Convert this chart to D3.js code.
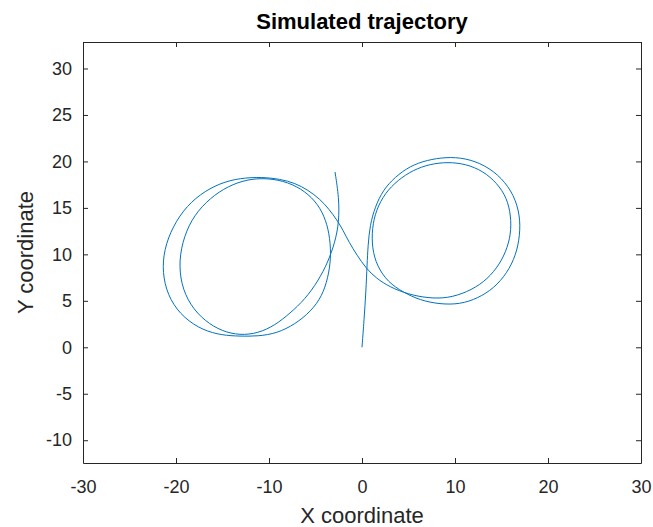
<!DOCTYPE html>
<html>
<head>
<meta charset="utf-8">
<script src="https://cdn.jsdelivr.net/npm/d3@7"></script>
<style>
  body { margin: 0; background: #fff; }
  text { font-family: "Liberation Sans", Arial, sans-serif; fill: #262626; }
</style>
</head>
<body>
<div id="chart"></div>
<script>
// trajectory, in order from the start point (0,0)
const xs = [0, 0.22, 0.43, 0.54, 0.65, 0.86, 1.40, 2.26, 3.55, 5.16, 6.99, 9.03, 11.08, 13.23, 15.05, 16.34, 16.99, 16.99, 16.56, 15.59, 14.19, 12.47, 10.54, 8.39, 6.24, 4.41,
  2.80, 1.61, 1.08, 1.08, 1.51, 2.47, 3.87, 5.48, 7.31, 9.25, 11.18, 13.01, 14.52, 15.59, 16.02, 16.02, 15.48, 14.52, 13.12, 11.29, 9.25, 7.10, 4.95,
  3.01, 1.51, 0.43, -0.54, -1.40, -2.04, -2.69, -3.55, -4.52, -5.81, -7.20, -8.82, -10.75,
  -13.12, -15.27, -17.42, -19.25, -20.65, -21.40, -21.40, -20.65, -19.14, -17.10, -15.05, -13.12, -11.18, -9.14, -7.20, -5.48, -4.30, -3.66, -3.33, -3.44, -3.87, -4.73, -6.13, -7.96, -10.11,
  -12.26, -14.41, -16.34, -18.06, -19.14, -19.68, -19.46, -18.49, -16.88, -15.05, -13.12, -11.18, -9.35, -7.74, -6.13, -4.73, -3.66, -2.90, -2.47, -2.47, -2.90];
const ys = [0, 2.91, 6.14, 8.84, 10.99, 13.15, 15.09, 16.92, 18.32, 19.50, 20.15, 20.47, 20.37, 19.61, 18.21, 16.38, 14.22, 12.07, 9.91, 7.97, 6.36, 5.28, 4.63, 4.63, 5.06, 5.93,
  7.00, 8.73, 10.67, 12.82, 14.76, 16.59, 18.00, 19.07, 19.72, 19.94, 19.72, 18.97, 17.67, 16.06, 14.12, 12.18, 10.24, 8.51, 7.00, 5.93, 5.28, 5.28, 5.71,
  6.47, 7.44, 8.51, 9.91, 11.31, 12.61, 13.69, 14.87, 15.95, 16.92, 17.67, 18.10, 18.32,
  18.21, 17.67, 16.49, 14.76, 12.39, 9.91, 7.44, 5.06, 3.13, 1.83, 1.29, 1.19, 1.19, 1.51, 2.48, 3.88, 5.50, 7.44, 9.59, 11.75, 13.69, 15.41, 16.81, 17.78, 18.21,
  18.10, 17.35, 16.06, 14.22, 11.96, 9.38, 6.79, 4.53, 2.80, 1.72, 1.29, 1.51, 2.37, 3.66, 5.17, 7.11, 9.16, 11.31, 13.47, 16.06, 18.86];

const xTicks = [-30, -20, -10, 0, 10, 20, 30];
const yTicks = [-10, -5, 0, 5, 10, 15, 20, 25, 30];
const xDomain = [-30, 30];
const yDomain = [-12.45, 32.85];

const margin = {top: 42, right: 12, bottom: 64, left: 83};
const width = 653 - margin.left - margin.right;
const height = 527 - margin.top - margin.bottom;

const svg = d3.select("#chart")
    .append("svg")
    .attr("width", 653)
    .attr("height", 527)
    .append("g")
    .attr("transform", `translate(${margin.left},${margin.top})`);

const x = d3.scaleLinear().domain(xDomain).range([0, width]);
const y = d3.scaleLinear().domain(yDomain).range([height, 0]);

const points = xs.map((d, i) => [d, ys[i]]);

svg.append("path")
    .datum(points)
    .attr("fill", "none")
    .attr("stroke", "#0072BD")
    .attr("stroke-width", 1)
    .attr("d", d3.line()
        .x(d => x(d[0]))
        .y(d => y(d[1]))
        .curve(d3.curveBasis)
    );

const fmt = d => String(d);

// axes with inward ticks on all four sides
const axBottom = svg.append("g")
    .attr("transform", `translate(0,${height})`)
    .call(d3.axisBottom(x).tickValues(xTicks).tickSizeInner(-5).tickSizeOuter(0).tickPadding(17).tickFormat(fmt));
const axTop = svg.append("g")
    .call(d3.axisTop(x).tickValues(xTicks).tickSizeInner(-5).tickSizeOuter(0).tickFormat(""));
const axLeft = svg.append("g")
    .call(d3.axisLeft(y).tickValues(yTicks).tickSizeInner(-5).tickSizeOuter(0).tickPadding(11).tickFormat(fmt));
const axRight = svg.append("g")
    .attr("transform", `translate(${width},0)`)
    .call(d3.axisRight(y).tickValues(yTicks).tickSizeInner(-5).tickSizeOuter(0).tickFormat(""));

[axBottom, axTop, axLeft, axRight].forEach(g => {
    g.select(".domain").attr("stroke", "#262626");
    g.selectAll(".tick line").attr("stroke", "#262626");
    g.selectAll(".tick text")
        .attr("font-size", 18)
        .attr("font-family", "Liberation Sans, Arial, sans-serif")
        .attr("fill", "#262626");
});

svg.append("text")
    .attr("x", width / 2)
    .attr("y", -13)
    .attr("text-anchor", "middle")
    .attr("font-size", 22)
    .attr("font-weight", "bold")
    .style("fill", "#000")
    .text("Simulated trajectory");

svg.append("text")
    .attr("x", width / 2)
    .attr("y", height + 60)
    .attr("text-anchor", "middle")
    .attr("font-size", 22)
    .text("X coordinate");

svg.append("text")
    .attr("x", -height / 2)
    .attr("y", -50)
    .attr("transform", "rotate(-90)")
    .attr("text-anchor", "middle")
    .attr("font-size", 22)
    .text("Y coordinate");
</script>
</body>
</html>
